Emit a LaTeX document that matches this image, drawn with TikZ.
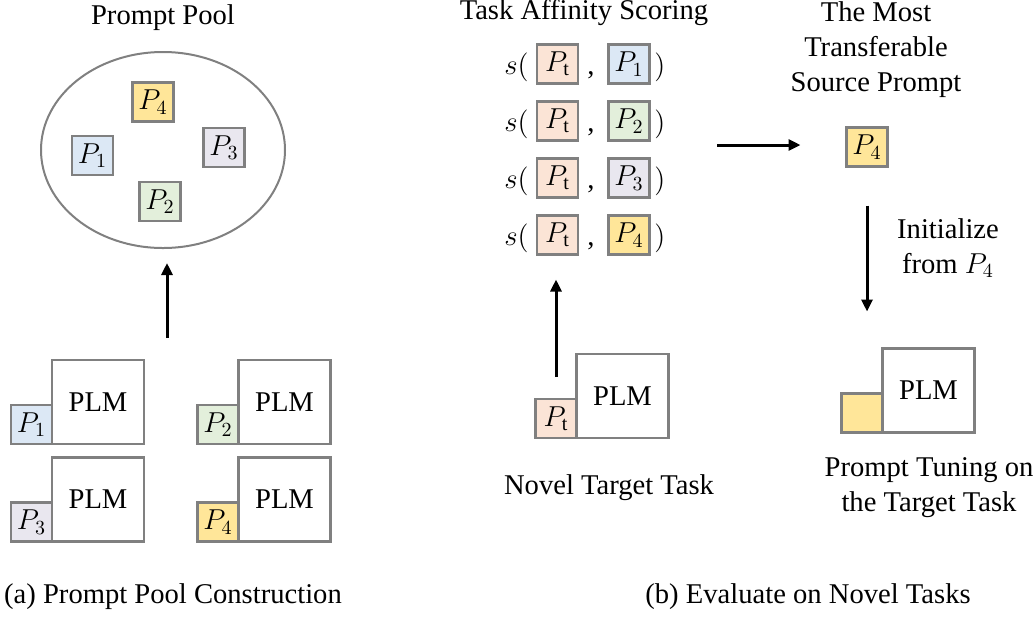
\documentclass[tikz,border=0pt]{standalone}
\usepackage{fontspec}
\setmainfont{Liberation Serif}
\usetikzlibrary{shapes.geometric,arrows.meta}
\definecolor{boxgray}{HTML}{808080}
\definecolor{pblue}{HTML}{DCE8F5}
\definecolor{pgreen}{HTML}{E3EFDB}
\definecolor{plav}{HTML}{E9E7EF}
\definecolor{pyel}{HTML}{FFE699}
\definecolor{ppeach}{HTML}{FBE4D6}

\begin{document}
\begin{tikzpicture}[x=0.5pt,y=-0.5pt,
    every node/.style={font=\fontsize{14.3}{17.5}\selectfont},
    pbox/.style={draw=boxgray, line width=1.3pt, minimum width=20.5pt, minimum height=19.5pt, inner sep=0pt, outer sep=0pt},
    plm/.style={draw=boxgray, line width=1.3pt, minimum width=46pt, minimum height=42pt, inner sep=0pt, outer sep=0pt},
    arr/.style={-{Triangle[length=6pt,width=5.5pt]}, line width=1.5pt}]
  \useasboundingbox (0,0) rectangle (1036,617);

  % (a) prompt pool
  \node[anchor=base] (pooltitle) at (163,24) {Prompt Pool};
  \node[draw=boxgray, line width=1pt, ellipse, minimum width=122pt, minimum height=98pt] (pool) at (163,150) {};
  \node[pbox, fill=pyel] (pool4) at (153,102) {$P_4$};
  \node[pbox, fill=pblue] (pool1) at (92.5,155.5) {$P_1$};
  \node[pbox, fill=plav] (pool3) at (224,147.5) {$P_3$};
  \node[pbox, fill=pgreen] (pool2) at (160,201.5) {$P_2$};

  \node[plm] (plmA) at (98,402) {PLM};
  \node[plm] (plmB) at (284.5,402) {PLM};
  \node[plm] (plmC) at (98,499.5) {PLM};
  \node[plm] (plmD) at (284.5,499.5) {PLM};
  \node[pbox, fill=pblue, anchor=south east] (qA) at (plmA.south west) {$P_1$};
  \node[pbox, fill=pgreen, anchor=south east] (qB) at (plmB.south west) {$P_2$};
  \node[pbox, fill=plav, anchor=south east] (qC) at (plmC.south west) {$P_3$};
  \node[pbox, fill=pyel, anchor=south east] (qD) at (plmD.south west) {$P_4$};

  \coordinate (upA) at (167,338);
  \draw[arr, shorten >=7pt] (upA) -- (upA |- pool.south);

  \node[anchor=base] (capA) at (173,603) {(a) Prompt Pool Construction};

  % (b) novel tasks
  \node[anchor=base] (scoretitle) at (584,19) {Task Affinity Scoring};
  \foreach \i/\y/\c in {1/64/pblue, 2/121/pgreen, 3/178/plav, 4/235/pyel} {
    \node[pbox, fill=ppeach] (t\i) at (557.5,\y) {$P_{\mathrm{t}}$};
    \node[pbox, fill=\c] (s\i) at (629,\y) {$P_\i$};
    \node[anchor=base east, inner sep=0pt] (open\i) at (529,\y+10) {$s($};
    \node[anchor=base, inner sep=0pt] (comma\i) at (591,\y+10) {,};
    \node[anchor=base west, inner sep=0pt] (close\i) at (654,\y+10) {$)$};
  }

  \node[plm] (plmT) at (622.5,396) {PLM};
  \node[pbox, fill=ppeach, anchor=south east] (tT) at (plmT.south west) {$P_{\mathrm{t}}$};
  \draw[arr, shorten <=11pt, shorten >=12.5pt] (tT.north) -- (tT.north |- t4.south);
  \node[anchor=base] (novel) at (609,494) {Novel Target Task};

  \node[align=center] (besttitle) at (876,50) {The Most\\Transferable\\Source Prompt};
  \node[pbox, fill=pyel] (best) at (867,147) {$P_4$};
  \coordinate (mid) at (717,145);
  \draw[arr, shorten >=23pt] (mid) -- (mid -| best.west);

  \node[plm] (plmF) at (928.5,390.5) {PLM};
  \node[pbox, fill=pyel, anchor=south east] (qF) at (plmF.south west) {};
  \draw[arr, shorten <=19.5pt, shorten >=18.5pt] (best.south) -- (best |- plmF.north);
  \node[align=center] (init) at (948,248) {Initialize\\from $P_4$};
  \node[align=center] (tune) at (929,488) {Prompt Tuning on\\the Target Task};

  \node[anchor=base] (capB) at (808,603) {(b) Evaluate on Novel Tasks};
\end{tikzpicture}
\end{document}
